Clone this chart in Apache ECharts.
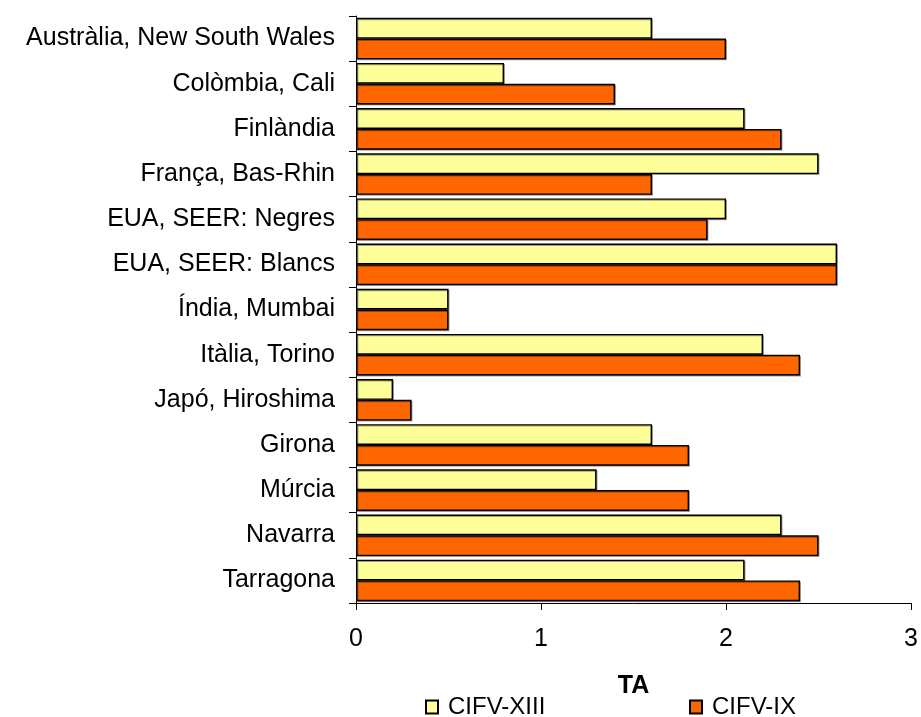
<!DOCTYPE html>
<html>
<head>
<meta charset="utf-8">
<script src="https://cdn.jsdelivr.net/npm/echarts@6/dist/echarts.min.js"></script>
<style>
  html, body { margin: 0; padding: 0; background: #fff; }
  #chart { width: 921px; height: 717px; }
</style>
</head>
<body>
<div id="chart"></div>
<script>
const categories = [
  'Austràlia, New South Wales',
  'Colòmbia, Cali',
  'Finlàndia',
  'França, Bas-Rhin',
  'EUA, SEER: Negres',
  'EUA, SEER: Blancs',
  'Índia, Mumbai',
  'Itàlia, Torino',
  'Japó, Hiroshima',
  'Girona',
  'Múrcia',
  'Navarra',
  'Tarragona'
];
const seriesNames = ['CIFV-XIII', 'CIFV-IX'];
const cifvXIII = [1.6, 0.8, 2.1, 2.5, 2.0, 2.6, 0.5, 2.2, 0.2, 1.6, 1.3, 2.3, 2.1];
const cifvIX   = [2.0, 1.4, 2.3, 1.6, 1.9, 2.6, 0.5, 2.4, 0.3, 1.8, 1.8, 2.5, 2.4];
const xTicks = [0, 1, 2, 3];

const font = 'Liberation Sans, Arial, sans-serif';
const chart = echarts.init(document.getElementById('chart'));

function barSeries(name, data, color) {
  return {
    name: name,
    type: 'bar',
    data: data,
    barCategoryGap: '8%',
    barGap: '0%',
    itemStyle: {
      color: color,
      borderColor: '#000',
      borderWidth: 1.4,
      shadowColor: 'rgba(0,0,0,0.35)',
      shadowOffsetX: 1,
      shadowOffsetY: 1
    }
  };
}

function legendFor(name, left) {
  return {
    data: [name],
    left: left,
    top: 695,
    padding: 0,
    itemWidth: 12,
    itemHeight: 13,
    itemGap: 0,
    icon: 'rect',
    textStyle: { fontFamily: font, fontSize: 24, color: '#000', padding: [0, 0, 0, 5] }
  };
}

chart.setOption({
  animation: false,
  grid: { left: 356, right: 10, top: 16, bottom: 114, containLabel: false },
  xAxis: {
    type: 'value',
    min: xTicks[0],
    max: xTicks[xTicks.length - 1],
    interval: 1,
    name: 'TA',
    nameLocation: 'middle',
    nameGap: 71,
    nameTextStyle: { fontFamily: font, fontSize: 25, fontWeight: 'bold', color: '#000' },
    axisLine: { show: true, lineStyle: { color: '#000', width: 1 } },
    axisTick: { show: true, length: 7, lineStyle: { color: '#000' } },
    axisLabel: { fontFamily: font, fontSize: 25, color: '#000', margin: 24 },
    splitLine: { show: false }
  },
  yAxis: {
    type: 'category',
    data: categories,
    inverse: true,
    axisLine: { show: true, lineStyle: { color: '#000', width: 1 } },
    axisTick: { show: true, length: 7, alignWithLabel: false, lineStyle: { color: '#000' } },
    axisLabel: { fontFamily: font, fontSize: 25, color: '#000', margin: 21 }
  },
  legend: [
    legendFor(seriesNames[0], 425),
    legendFor(seriesNames[1], 689)
  ],
  series: [
    barSeries(seriesNames[0], cifvXIII, '#FFFF99'),
    barSeries(seriesNames[1], cifvIX, '#FF6600')
  ]
});
</script>
</body>
</html>
